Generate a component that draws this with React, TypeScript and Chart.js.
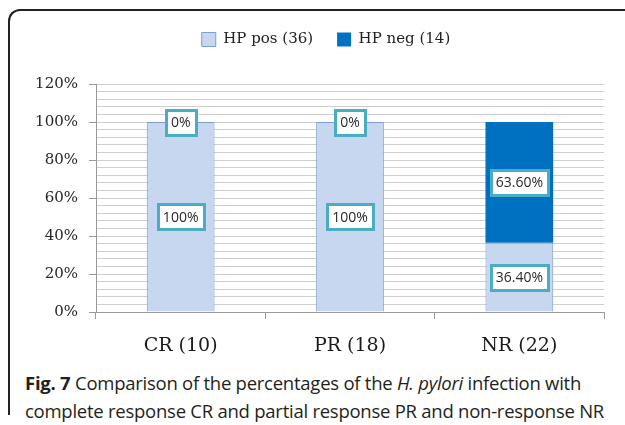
import React, { useEffect, useRef } from "react";
import { Chart, registerables } from "chart.js";

Chart.register(...registerables);

const categories = ["CR (10)", "PR (18)", "NR (22)"];
const seriesNames = ["HP pos (36)", "HP neg (14)"];
const hpPosValues = [100, 100, 36.4];
const hpNegValues = [0, 0, 63.6];
const hpPosLabels = ["100%", "100%", "36.40%"];
const hpNegLabels = ["0%", "0%", "63.60%"];
const yMax = 120;
const yMajorStep = 20;
const yMinorStep = 4;

const boxLabelPlugin = {
  id: "boxLabels",
  beforeLayout(chart: any) {
    const lg = chart.legend;
    if (lg && !lg.__patched) {
      const f = lg.fit;
      lg.fit = function () {
        f.call(this);
        this.height += 27;
      };
      lg.__patched = true;
    }
  },
  afterLayout(chart: any) {
    const y = chart.scales.y;
    if (y) y.left = 0;
  },
  afterDatasetsDraw(chart: any) {
    const ctx = chart.ctx;
    ctx.save();
    ctx.font = "14px 'Open Sans'";
    ctx.textAlign = "center";
    ctx.textBaseline = "middle";
    chart.data.datasets.forEach((ds: any, di: number) => {
      const meta = chart.getDatasetMeta(di);
      const labels: string[] = ds.boxLabels || [];
      meta.data.forEach((el: any, i: number) => {
        const { x, y, base } = el.getProps(["x", "y", "base"], true);
        const cy = (y + base) / 2;
        const text = labels[i];
        if (!text) return;
        const w = Math.round(ctx.measureText(text).width + 10);
        const h = 25;
        const left = Math.round(x - w / 2) + 0.5;
        const top = Math.round(cy - h / 2) + 0.5;
        ctx.fillStyle = "#ffffff";
        ctx.fillRect(left, top, w, h);
        ctx.lineWidth = 3;
        ctx.strokeStyle = "#4BACC6";
        ctx.strokeRect(left, top, w, h);
        ctx.fillStyle = "#2a2a2a";
        ctx.fillText(text, x, cy + 1);
      });
    });
    ctx.restore();
  },
};

function ChartCanvas() {
  const ref = useRef<HTMLCanvasElement | null>(null);
  useEffect(() => {
    if (!ref.current) return;
    const chart = new Chart(ref.current, {
      type: "bar",
      data: {
        labels: categories,
        datasets: [
          {
            label: seriesNames[0],
            data: hpPosValues,
            backgroundColor: "#C6D7EF",
            borderColor: "#7F9DCF",
            borderWidth: 1,
            boxLabels: hpPosLabels,
          } as any,
          {
            label: seriesNames[1],
            data: hpNegValues,
            backgroundColor: "#0070C0",
            borderColor: "#0070C0",
            borderWidth: 0,
            boxLabels: hpNegLabels,
          } as any,
        ],
      },
      options: {
        animation: false,
        responsive: false,
        maintainAspectRatio: false,
        datasets: { bar: { categoryPercentage: 1, barPercentage: 0.4 } },
        layout: { padding: { left: 48, right: 21, top: 8, bottom: 0 } },
        plugins: {
          tooltip: { enabled: false },
          legend: {
            display: true,
            position: "top",
            labels: {
              font: { family: "'DejaVu Serif'", size: 15 },
              color: "#222222",
              boxWidth: 14,
              boxHeight: 14,
              padding: 24,
            },
          },
        },
        scales: {
          x: {
            stacked: true,
            offset: true,
            grid: {
              offset: true,
              drawOnChartArea: false,
              drawTicks: true,
              tickLength: 7,
              tickColor: "#9a9a9a",
            },
            border: { display: true, color: "#9a9a9a" },
            ticks: {
              font: { family: "'DejaVu Serif'", size: 19 },
              color: "#1a1a1a",
              padding: 16,
            },
            afterFit: (scale: any) => {
              scale.height = 48;
            },
          },
          y: {
            stacked: true,
            min: 0,
            max: yMax,
            grid: {
              color: "#cfcfcf",
              lineWidth: 1,
              drawTicks: true,
              tickLength: 7,
              tickColor: (c: any) =>
                c.tick && c.tick.value % yMajorStep === 0 ? "#9a9a9a" : "rgba(0,0,0,0)",
            },
            border: { display: true, color: "#9a9a9a" },
            ticks: {
              stepSize: yMinorStep,
              autoSkip: false,
              padding: 11,
              font: { family: "'DejaVu Serif'", size: 15 },
              color: "#262626",
              callback: (v: any) => (Number(v) % yMajorStep === 0 ? `${v}%` : ""),
            },
            afterFit: (scale: any) => {
              scale.width = 48;
            },
          },
        },
      },
      plugins: [boxLabelPlugin],
    } as any);
    return () => chart.destroy();
  }, []);
  return (
    <canvas
      ref={ref}
      width={625}
      height={360}
      style={{ position: "absolute", left: 0, top: 0, width: 625, height: 360 }}
    />
  );
}

export default function App() {
  return (
    <div
      style={{
        position: "absolute",
        left: 0,
        top: 0,
        width: 625,
        height: 425,
        overflow: "hidden",
        background: "#ffffff",
      }}
    >
      <div
        style={{
          position: "absolute",
          left: 8,
          top: 9,
          width: 700,
          height: 406,
          borderLeft: "2px solid #222",
          borderTop: "2px solid #222",
          borderTopLeftRadius: 12,
          boxSizing: "border-box",
        }}
      />
      <ChartCanvas />
      <div
        style={{
          position: "absolute",
          left: 25,
          top: 369,
          width: 600,
          fontFamily: "'Open Sans', sans-serif",
          fontSize: 18.5,
          letterSpacing: "-0.25px",
          lineHeight: "28px",
          color: "#231f20",
          whiteSpace: "nowrap",
        }}
      >
        <div>
          <b>Fig. 7</b> Comparison of the percentages of the <i>H. pylori</i> infection with
        </div>
        <div>complete response CR and partial response PR and non-response NR</div>
      </div>
    </div>
  );
}
